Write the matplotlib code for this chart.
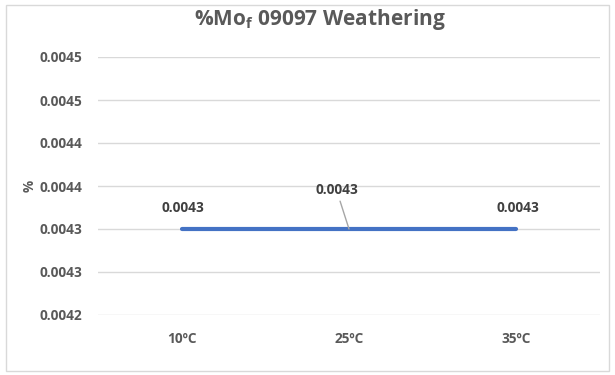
import matplotlib
matplotlib.use('Agg')
import matplotlib.pyplot as plt
from matplotlib.patches import Rectangle

# Daten
categories = ['10ºC', '25ºC', '35ºC']
values = [0.0043, 0.0043, 0.0043]
y_ticks = [0.0042, 0.00425, 0.0043, 0.00435, 0.0044, 0.00445, 0.0045]
y_tick_labels = ['0.0042', '0.0043', '0.0043', '0.0044', '0.0044', '0.0045', '0.0045']

plt.rcParams['font.family'] = ['Open Sans', 'DejaVu Sans']
plt.rcParams['mathtext.fontset'] = 'custom'
plt.rcParams['mathtext.rm'] = 'Open Sans:bold'

grau = '#595959'
fs = 9.8

fig = plt.figure(figsize=(6.15, 3.75), dpi=100)
ax = fig.add_axes([0.159, 0.16, 0.817, 0.688])

x = range(len(categories))
ax.plot(x, values, color='#4472C4', linewidth=3, solid_capstyle='round', zorder=3)

ax.set_xlim(-0.5, len(categories) - 0.5)
ax.set_ylim(y_ticks[0], y_ticks[-1])
ax.set_yticks(y_ticks)
ax.set_yticklabels(y_tick_labels)
ax.set_xticks(list(x))
ax.set_xticklabels(categories)

ax.grid(True, axis='y', color='#D9D9D9', linewidth=1)
ax.set_axisbelow(True)
for s in ax.spines.values():
    s.set_visible(False)
ax.tick_params(length=0, colors=grau, labelsize=fs)
ax.tick_params(axis='y', pad=11)
ax.tick_params(axis='x', pad=12)
for lab in ax.get_xticklabels() + ax.get_yticklabels():
    lab.set_fontweight('bold')

ax.set_ylabel('%', color=grau, fontsize=fs, fontweight='bold', labelpad=2)

# Datenbeschriftungen
for i in [0, 2]:
    ax.annotate(f'{values[i]:.4f}', (i, values[i]), xytext=(1, 10), textcoords='offset points',
                ha='center', va='bottom', fontsize=fs, fontweight='bold', color='#404040')
ax.annotate(f'{values[1]:.4f}', (1, values[1]), xytext=(-9, 23), textcoords='offset points',
            ha='center', va='bottom', fontsize=fs, fontweight='bold', color='#404040',
            arrowprops=dict(arrowstyle='-', color='#A6A6A6', lw=1, shrinkA=1, shrinkB=0))

fig.suptitle(r'%Mo$_\mathrm{f}$ 09097 Weathering', x=0.52, y=0.947, va='center', fontsize=15,
             fontweight='bold', color=grau)

# Rahmen
fig.patches.append(Rectangle((0.009, 0.012), 0.982, 0.976, transform=fig.transFigure,
                             fill=False, edgecolor='#D9D9D9', linewidth=1))

fig.savefig('out.png', dpi=100)
